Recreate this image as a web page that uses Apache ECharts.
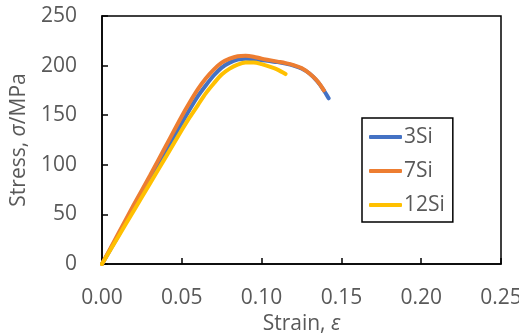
<!DOCTYPE html>
<html>
<head>
<meta charset="utf-8">
<script src="https://cdn.jsdelivr.net/npm/echarts@6/dist/echarts.min.js"></script>
<style>
  html, body { margin: 0; padding: 0; background: #fff; }
  #chart { width: 519px; height: 335px; }
</style>
</head>
<body>
<div id="chart"></div>
<script>
const xTicks = [0, 0.05, 0.10, 0.15, 0.20, 0.25];
const yTicks = [0, 50, 100, 150, 200, 250];

const strain3 = [0, 0.01, 0.02, 0.03, 0.04, 0.05, 0.055, 0.06, 0.065, 0.07, 0.075, 0.08, 0.085, 0.09, 0.095, 0.10, 0.105, 0.11, 0.115, 0.12, 0.125, 0.13, 0.135, 0.139, 0.142];
const stress3 = [0, 28, 57, 85, 114, 142, 156, 169, 180, 190, 198, 203, 206, 207, 206.5, 205.5, 204.5, 203.5, 202, 200, 197, 192, 184, 175, 167];

const strain7 = [0, 0.01, 0.02, 0.03, 0.04, 0.05, 0.055, 0.06, 0.065, 0.07, 0.075, 0.08, 0.085, 0.09, 0.095, 0.10, 0.105, 0.11, 0.115, 0.12, 0.125, 0.13, 0.134, 0.137, 0.139];
const stress7 = [0, 30, 60, 89, 119, 149, 163, 176, 187, 196, 203, 207, 209.5, 210, 209, 207, 205.5, 204, 202.5, 200.5, 197.5, 192, 186, 180, 175];

const strain12 = [0, 0.01, 0.02, 0.03, 0.04, 0.05, 0.055, 0.06, 0.065, 0.07, 0.075, 0.08, 0.085, 0.09, 0.095, 0.10, 0.105, 0.11, 0.115];
const stress12 = [0, 27, 54, 81, 108, 135, 148, 160, 172, 182, 191, 197, 201, 203, 203, 201.5, 199, 196, 191.5];

const FONT = "'Open Sans', 'Liberation Sans', sans-serif";
const GREY = "#595959";

const zip = (xs, ys) => xs.map((x, i) => [x, ys[i]]);

function lineSeries(name, xs, ys, color) {
  return {
    name,
    type: "line",
    data: zip(xs, ys),
    smooth: 0.3,
    showSymbol: false,
    symbol: "none",
    lineStyle: { color, width: 4, cap: "round" },
    itemStyle: { color }
  };
}

const chart = echarts.init(document.getElementById("chart"));
chart.setOption({
  animation: false,
  backgroundColor: "#fff",
  grid: {
    left: 102, right: 18, top: 16, bottom: 71,
    containLabel: false, outerBoundsMode: "none",
    show: true, borderColor: "#000", borderWidth: 1.5
  },
  legend: {
    orient: "vertical",
    left: 362, top: 118,
    padding: [7, 8, 5, 7],
    itemGap: 10,
    itemWidth: 33, itemHeight: 4,
    icon: "roundRect",
    borderColor: "#000", borderWidth: 1.5,
    textStyle: { fontFamily: FONT, fontSize: 21, color: GREY, lineHeight: 24, padding: [0, 0, 0, -3] },
    data: ["3Si", "7Si", "12Si"]
  },
  xAxis: {
    type: "value",
    min: xTicks[0], max: xTicks[xTicks.length - 1], interval: 0.05,
    name: "Strain, {i|ε}",
    nameLocation: "middle",
    nameGap: 48,
    nameTextStyle: {
      fontFamily: FONT, fontSize: 21, color: GREY,
      rich: { i: { fontFamily: FONT, fontSize: 21, color: GREY, fontStyle: "italic" } }
    },
    axisLine: { lineStyle: { color: "#000", width: 1.5 } },
    axisTick: { inside: true, length: 6, lineStyle: { color: "#000", width: 1.5 } },
    axisLabel: { fontFamily: FONT, fontSize: 21, color: GREY, margin: 24, formatter: v => v.toFixed(2) },
    splitLine: { show: false }
  },
  yAxis: {
    type: "value",
    min: yTicks[0], max: yTicks[yTicks.length - 1], interval: 50,
    name: "Stress, {i|σ}/MPa",
    nameLocation: "middle",
    nameGap: 72,
    nameTextStyle: {
      fontFamily: FONT, fontSize: 21, color: GREY,
      rich: { i: { fontFamily: FONT, fontSize: 21, color: GREY, fontStyle: "italic" } }
    },
    axisLine: { show: true, lineStyle: { color: "#000", width: 1.5 } },
    axisTick: { show: true, inside: true, length: 6, lineStyle: { color: "#000", width: 1.5 } },
    axisLabel: { fontFamily: FONT, fontSize: 21, color: GREY, margin: 25 },
    splitLine: { show: false }
  },
  series: [
    lineSeries("3Si", strain3, stress3, "#4472C4"),
    lineSeries("7Si", strain7, stress7, "#ED7D31"),
    lineSeries("12Si", strain12, stress12, "#FFC000")
  ]
});
</script>
</body>
</html>
